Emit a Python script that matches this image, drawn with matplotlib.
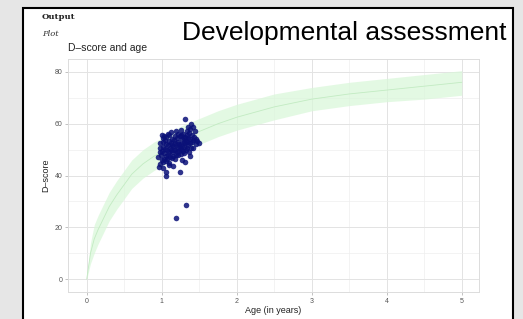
import numpy as np
import matplotlib
matplotlib.use("Agg")
import matplotlib.pyplot as plt
from matplotlib.patches import Rectangle
from matplotlib.ticker import MultipleLocator

# reference band
ref_age = [0, 0.05, 0.1, 0.15, 0.2, 0.3, 0.4, 0.5, 0.6, 0.75, 0.9, 1.0,
           1.25, 1.5, 1.75, 2.0, 2.5, 3.0, 3.5, 4.0, 4.5, 5.0]
ref_mid = [0, 10, 15.5, 19, 22, 28, 32.5, 36.5, 40.5, 44.5, 47.5, 49,
           53.5, 57, 60, 62.5, 66.5, 69.5, 71.5, 73, 74.5, 76]
ref_low = [0, 6, 10, 13.5, 16.5, 22.5, 27, 31, 35, 39, 42, 43.5,
           48, 52, 55, 57.5, 61.5, 65, 67, 68.5, 69.5, 71]
ref_high = [0, 14, 21, 24.5, 27.5, 33.5, 38, 42, 46, 50, 53, 54.5,
            59, 62, 65, 67.5, 71.5, 74, 76, 77.5, 79, 80.5]

# children
age = [1.00, 1.02, 0.99, 1.01, 1.03, 1.04, 1.05, 1.06, 1.07, 1.08, 1.09, 1.10,
       1.11, 1.12, 1.13, 1.14, 1.15, 1.16, 1.17, 1.18, 1.19, 1.20, 1.21, 1.22,
       1.23, 1.24, 1.25, 1.26, 1.27, 1.28, 1.29, 1.30, 1.31, 1.32, 1.33, 1.34,
       1.35, 1.36, 1.38, 1.40, 1.42, 1.44, 1.46,
       0.98, 0.97, 0.98, 1.00, 1.01, 1.02, 1.03, 1.04, 1.05, 1.06, 1.07, 1.08,
       1.09, 1.10, 1.11, 1.12, 1.13, 1.14, 1.15, 1.16, 1.17, 1.18, 1.19, 1.20,
       1.21, 1.22, 1.23, 1.24, 1.25, 1.26, 1.27, 1.28, 1.29, 1.30, 1.31, 1.32,
       1.33, 1.34, 1.35, 1.36, 1.37, 1.38, 1.39, 1.40, 1.41, 1.43, 1.45, 1.47,
       1.12, 1.08, 1.03, 1.26, 1.19, 1.35,
       1.31, 1.39, 1.00, 1.50, 0.95, 0.96, 1.02, 1.06, 1.05, 1.15, 1.24, 1.31,
       1.37, 1.32, 1.19, 0.98, 1.10, 1.42, 1.27]
dscore = [49.5, 51.0, 47.8, 53.0, 48.6, 50.2, 52.1, 47.5, 49.8, 51.6, 53.4, 48.9,
          50.7, 52.5, 46.8, 49.2, 51.3, 53.8, 50.0, 52.4, 48.1, 54.5, 51.0, 53.1,
          49.6, 55.2, 52.0, 50.3, 54.0, 56.1, 52.8, 51.2, 55.0, 53.5, 57.0, 50.8,
          54.6, 56.3, 52.5, 55.5, 53.8, 57.2, 52.0,
          50.8, 49.0, 52.6, 46.0, 45.2, 54.5, 46.5, 53.8, 45.6, 55.0, 46.2, 48.0,
          45.0, 55.6, 47.3, 49.8, 54.0, 51.9, 47.6, 49.9, 55.3, 46.4, 51.7, 49.0,
          56.0, 47.9, 52.3, 50.5, 48.2, 55.8, 51.5, 49.4, 54.3, 48.5, 52.7, 50.0,
          55.6, 53.0, 51.6, 49.2, 54.0, 57.8, 50.5, 52.8, 58.6, 55.0, 54.2, 53.2,
          56.8, 56.0, 55.4, 57.6, 57.0, 58.6,
          61.8, 59.9, 55.6, 52.4, 47.0, 43.2, 42.8, 40.0, 41.3, 43.5, 41.5, 45.4,
          47.7, 28.7, 23.7, 44.5, 44.0, 50.5, 46.0]

W, H = 523, 319
fig = plt.figure(figsize=(W / 100, H / 100), dpi=100)
fig.patch.set_facecolor("#e6e6e6")

# white output panel with black frame
fig.patches.append(Rectangle((23 / W, -0.05), (513 - 23) / W, 1.05 - 8 / H,
                             transform=fig.transFigure, facecolor="white",
                             edgecolor="black", linewidth=1.5, zorder=-1))

fig.text(42 / W, 1 - 17 / H, "Output", fontsize=6, fontweight="bold",
         family="DejaVu Serif", va="center", color="#222222")
fig.text(42 / W, 1 - 34 / H, "Plot", fontsize=6, style="italic",
         family="DejaVu Serif", va="center", color="#333333")
fig.text(506 / W, 1 - 33 / H, "Developmental assessment", fontsize=19,
         family="Liberation Sans", ha="right", va="center")
fig.text(68 / W, 1 - 48 / H, "D\u2013score and age", fontsize=7.5,
         family="Liberation Sans", va="center", color="#222222")

ax = fig.add_axes([68 / W, (H - 292) / H, (479 - 68) / W, (292 - 59) / H])
ax.set_zorder(2)
ax.set_facecolor("white")
ax.fill_between(ref_age, ref_low, ref_high, color="#d8f7d8", alpha=0.7,
                linewidth=0, zorder=1)
ax.plot(ref_age, ref_mid, color="#c2ebc2", linewidth=0.6, zorder=2)
ax.scatter(age, dscore, s=16, color="#0a1078", alpha=0.85, linewidths=0,
           zorder=3)

ax.set_xlim(-0.25, 5.23)
ax.set_ylim(-5, 85)
ax.xaxis.set_major_locator(MultipleLocator(1))
ax.xaxis.set_minor_locator(MultipleLocator(0.5))
ax.yaxis.set_major_locator(MultipleLocator(20))
ax.yaxis.set_minor_locator(MultipleLocator(10))
ax.grid(which="major", color="#e3e3e3", linewidth=0.7)
ax.grid(which="minor", color="#eeeeee", linewidth=0.5)
ax.set_axisbelow(True)
for s in ax.spines.values():
    s.set_color("#dcdcdc")
    s.set_linewidth(0.7)
ax.tick_params(which="major", length=2, width=0.5, color="#aaaaaa",
               labelsize=5, labelcolor="#555555", pad=2)
ax.tick_params(which="minor", length=0)
for lab in ax.get_xticklabels() + ax.get_yticklabels():
    lab.set_family("Liberation Sans")
ax.set_xlabel("Age (in years)", fontsize=6.5, family="Liberation Sans",
              labelpad=1, color="#222222")
ax.set_ylabel("D\u2013score", fontsize=6.5, family="Liberation Sans",
              labelpad=3, color="#222222")

fig.savefig("out.png", dpi=100, facecolor=fig.get_facecolor())
